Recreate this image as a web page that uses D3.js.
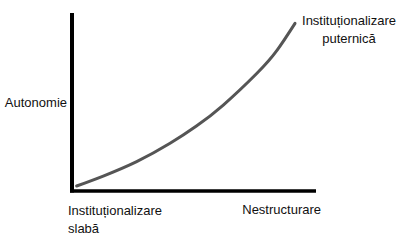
<!DOCTYPE html>
<html>
<head>
<meta charset="utf-8">
<script src="https://cdn.jsdelivr.net/npm/d3@7"></script>
<style>
  body { margin: 0; background: #fff; }
  text { font-family: "Liberation Sans", Arial, sans-serif; font-size: 13px; fill: #111; }
</style>
</head>
<body>
<div id="chart"></div>
<script>
// curve points (0-100 scale on both axes)
const curveX = [1.9, 12.8, 26.5, 40.2, 51, 62, 75.7, 84, 91.4];
const curveY = [2.8, 8.4, 16.5, 26.8, 36.5, 48.3, 66, 79, 94.2];

const yLabel = "Autonomie";
const xLabel = "Nestructurare";
const startLabel = ["Instituționalizare", "slabă"];
const endLabel = ["Instituționalizare", "puternică"];

const width = 407, height = 243;
const margin = { top: 13, right: 91, bottom: 52, left: 72 };

const svg = d3.select("#chart").append("svg")
    .attr("width", width)
    .attr("height", height);

const x = d3.scaleLinear()
    .domain([0, 100])
    .range([margin.left, width - margin.right]);

const y = d3.scaleLinear()
    .domain([0, 100])
    .range([height - margin.bottom, margin.top]);

// axes - plain thick lines, no ticks
svg.append("line")
    .attr("x1", x(0)).attr("x2", x(0))
    .attr("y1", y(100)).attr("y2", y(0) + 1.5)
    .attr("stroke", "#000")
    .attr("stroke-width", 4);

svg.append("line")
    .attr("x1", x(0) - 2).attr("x2", x(100))
    .attr("y1", y(0)).attr("y2", y(0))
    .attr("stroke", "#000")
    .attr("stroke-width", 3.5);

// the curve
const pts = curveX.map((d, i) => [d, curveY[i]]);
const line = d3.line()
    .x(d => x(d[0]))
    .y(d => y(d[1]))
    .curve(d3.curveNatural);

svg.append("path")
    .datum(pts)
    .attr("d", line)
    .attr("fill", "none")
    .attr("stroke", "#555")
    .attr("stroke-width", 3)
    .attr("stroke-linecap", "round");

// labels
svg.append("text")
    .attr("x", x(0) - 5)
    .attr("y", y(47))
    .attr("text-anchor", "end")
    .text(yLabel);

svg.append("text")
    .attr("x", x(100) + 5)
    .attr("y", y(0) + 23)
    .attr("text-anchor", "end")
    .text(xLabel);

const startG = svg.append("text")
    .attr("x", x(0) - 4)
    .attr("y", y(0) + 24);
startLabel.forEach((s, i) => {
    startG.append("tspan")
        .attr("x", x(0) - 4)
        .attr("dy", i === 0 ? 0 : 18)
        .text(s);
});

const endG = svg.append("text")
    .attr("text-anchor", "middle")
    .attr("y", 25);
endLabel.forEach((s, i) => {
    endG.append("tspan")
        .attr("x", 349)
        .attr("dy", i === 0 ? 0 : 18)
        .text(s);
});
</script>
</body>
</html>
